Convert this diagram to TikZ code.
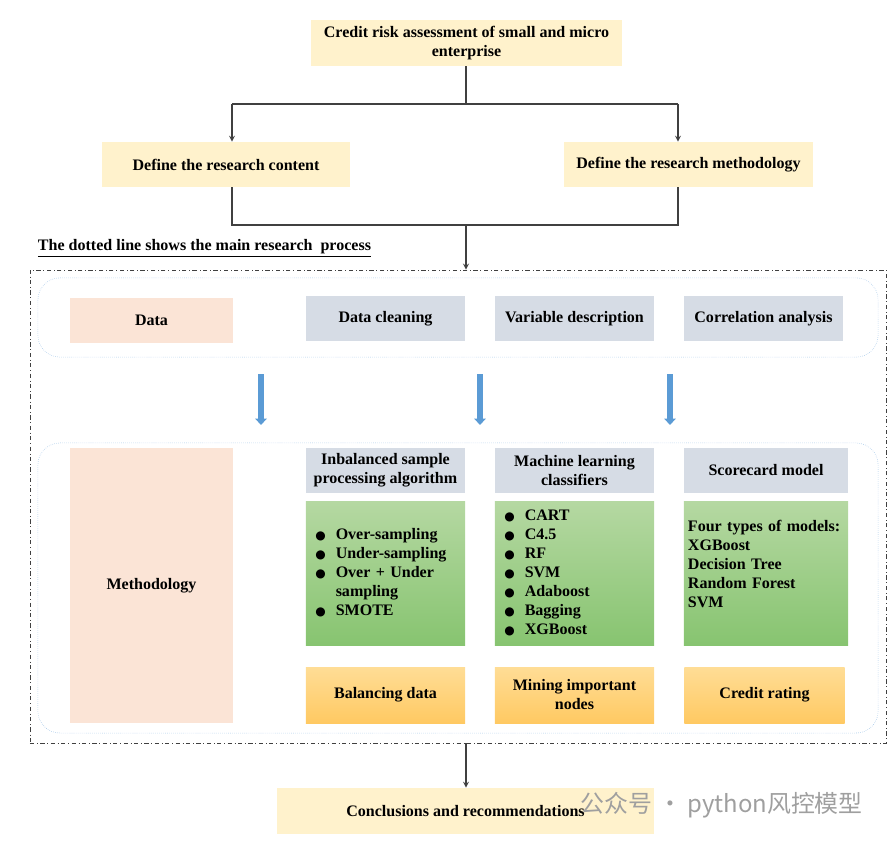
\documentclass[tikz,border=0pt]{standalone}
\usepackage{fontspec}
\setmainfont{Liberation Serif}
\newfontfamily\cjk{Noto Sans CJK SC}
\newfontfamily\symfont{DejaVu Sans}
\usepackage{xcolor}
\usetikzlibrary{arrows, arrows.meta, positioning, shapes.geometric}
\definecolor{paleyellow}{RGB}{255,242,204}
\definecolor{peach}{RGB}{251,228,214}
\definecolor{steelgray}{RGB}{214,220,229}
\definecolor{greentop}{RGB}{181,216,162}
\definecolor{greenbot}{RGB}{135,196,112}
\definecolor{orangetop}{RGB}{255,221,150}
\definecolor{orangebot}{RGB}{255,201,98}
\definecolor{skyline}{RGB}{157,195,230}
\definecolor{arrowblue}{RGB}{91,155,213}
\definecolor{linegray}{RGB}{64,64,64}

\newcommand{\dotitem}{{\symfont\fontsize{8.5}{8.5}\selectfont ●}}

\tikzset{
  txt/.style={font=\bfseries\fontsize{11.4}{13.5}\selectfont, text=black},
  yellowbox/.style={txt, fill=paleyellow, align=center, inner sep=2pt},
  peachbox/.style={txt, fill=peach, align=center, minimum width=4.08cm},
  graybox/.style={txt, fill=steelgray, align=center, minimum width=3.98cm, minimum height=1.13cm, inner sep=2pt},
  greenbox/.style={txt, top color=greentop, bottom color=greenbot, minimum width=3.98cm, minimum height=3.6cm, inner sep=3pt, align=left},
  orangebox/.style={txt, top color=orangetop, bottom color=orangebot, align=center, minimum width=3.98cm, minimum height=1.4cm, inner sep=2pt},
  rowbox/.style={draw=skyline, densely dotted, rounded corners=0.55cm, minimum width=21cm},
  frame/.style={draw=linegray, dash dot, minimum width=21.4cm, minimum height=11.825cm},
  link/.style={draw=linegray, line width=0.9pt},
  bluearrow/.style={draw=arrowblue, line width=4pt, -{Triangle[width=8pt,length=4.5pt]}}
}

\begin{document}
\begin{tikzpicture}[x=0.025cm, y=-0.025cm, >=stealth]
    \useasboundingbox (0,0) rectangle (894,841);

    % Top part
    \node[yellowbox, minimum width=7.78cm, minimum height=1.15cm] (topic) at (466.5,43)
        {Credit risk assessment of small and micro\\enterprise};
    \node[yellowbox, minimum width=6.2cm, minimum height=1.125cm] (content) at (226,164.5)
        {Define the research content};
    \node[yellowbox, minimum width=6.2cm, minimum height=1.125cm] (method) at (688.5,164.5)
        {Define the research methodology};

    \coordinate (split) at (466,104);
    \coordinate (jl) at (232,104);
    \coordinate (jr) at (678,104);
    \coordinate (merge) at (466,225);

    \draw[link] (topic.south -| split) -- (split);
    \draw[link] (jl) -- (jr);
    \draw[link, ->] (jl) -- (jl |- content.north);
    \draw[link, ->] (jr) -- (jr |- method.north);
    \draw[link] (jl |- content.south) -- (jl |- merge) -- (jr |- merge) -- (jr |- method.south);

    \node[txt, anchor=west] (note) at (33,248)
        {\underline{The dotted line shows the main research\ \ process}};

    % Dotted frame
    \node[frame] (main) at (458,506.5) {};
    \draw[link, ->] (merge) -- (merge |- main.north);

    % Data row
    \node[rowbox, minimum height=1.98cm] (rowdata) at (458,317.5) {};
    \node[peachbox, minimum height=1.13cm] (data) at (151.5,320.5) {Data};
    \node[graybox] (cleaning) at (385.5,318.5) {Data cleaning};
    \node[graybox] (variable) at (574.5,318.5) {Variable description};
    \node[graybox] (correlation) at (763.5,318.5) {Correlation analysis};

    \foreach \x in {261,480,670}
        \draw[bluearrow] (\x,374) -- (\x,425);

    % Methodology row
    \node[rowbox, minimum height=7.25cm] (rowmethod) at (458,588) {};
    \node[peachbox, minimum height=6.88cm] (methodology) at (151.5,585.5) {Methodology};

    \node[graybox] (imbalance) at (385.5,470.5) {Inbalanced sample\\processing algorithm};
    \node[graybox] (learning) at (574.5,470.5) {Machine learning\\classifiers};
    \node[graybox, minimum width=4.1cm] (scorecard) at (766,470.5) {Scorecard model};

    \node[greenbox, text width=3.5cm] (sampling) at (385.5,573.5) {%
        \begin{tabular}{@{}l@{\hspace{7pt}}l@{}}
        \dotitem & Over-sampling\\
        \dotitem & Under-sampling\\
        \dotitem & Over + Under\\
                 & sampling\\
        \dotitem & SMOTE
        \end{tabular}};
    \node[greenbox, text width=3.5cm] (classifiers) at (574.5,573.5) {%
        \begin{tabular}{@{}l@{\hspace{7pt}}l@{}}
        \dotitem & CART\\
        \dotitem & C4.5\\
        \dotitem & RF\\
        \dotitem & SVM\\
        \dotitem & Adaboost\\
        \dotitem & Bagging\\
        \dotitem & XGBoost
        \end{tabular}};
    \node[greenbox, minimum width=4.1cm, text width=3.9cm] (models) at (766,573.5)
        {Four types of models:\\XGBoost\\Decision Tree\\Random Forest\\SVM\\\mbox{}};

    \node[orangebox] (balancing) at (385.5,695) {Balancing data};
    \node[orangebox] (mining) at (574.5,695) {Mining important\\nodes};
    \node[orangebox, minimum width=4.0cm] (rating) at (764.5,695) {Credit rating};

    % Conclusion
    \node[yellowbox, minimum width=9.43cm, minimum height=1.15cm] (conclusion) at (465.5,811)
        {Conclusions and recommendations};
    \draw[link, ->] (merge |- main.south) -- (merge |- conclusion.north);

    \node[text=gray!75, font=\cjk\fontsize{17}{17}\selectfont, anchor=west] (mark) at (576,805)
        {公众号 · python风控模型};
\end{tikzpicture}
\end{document}
